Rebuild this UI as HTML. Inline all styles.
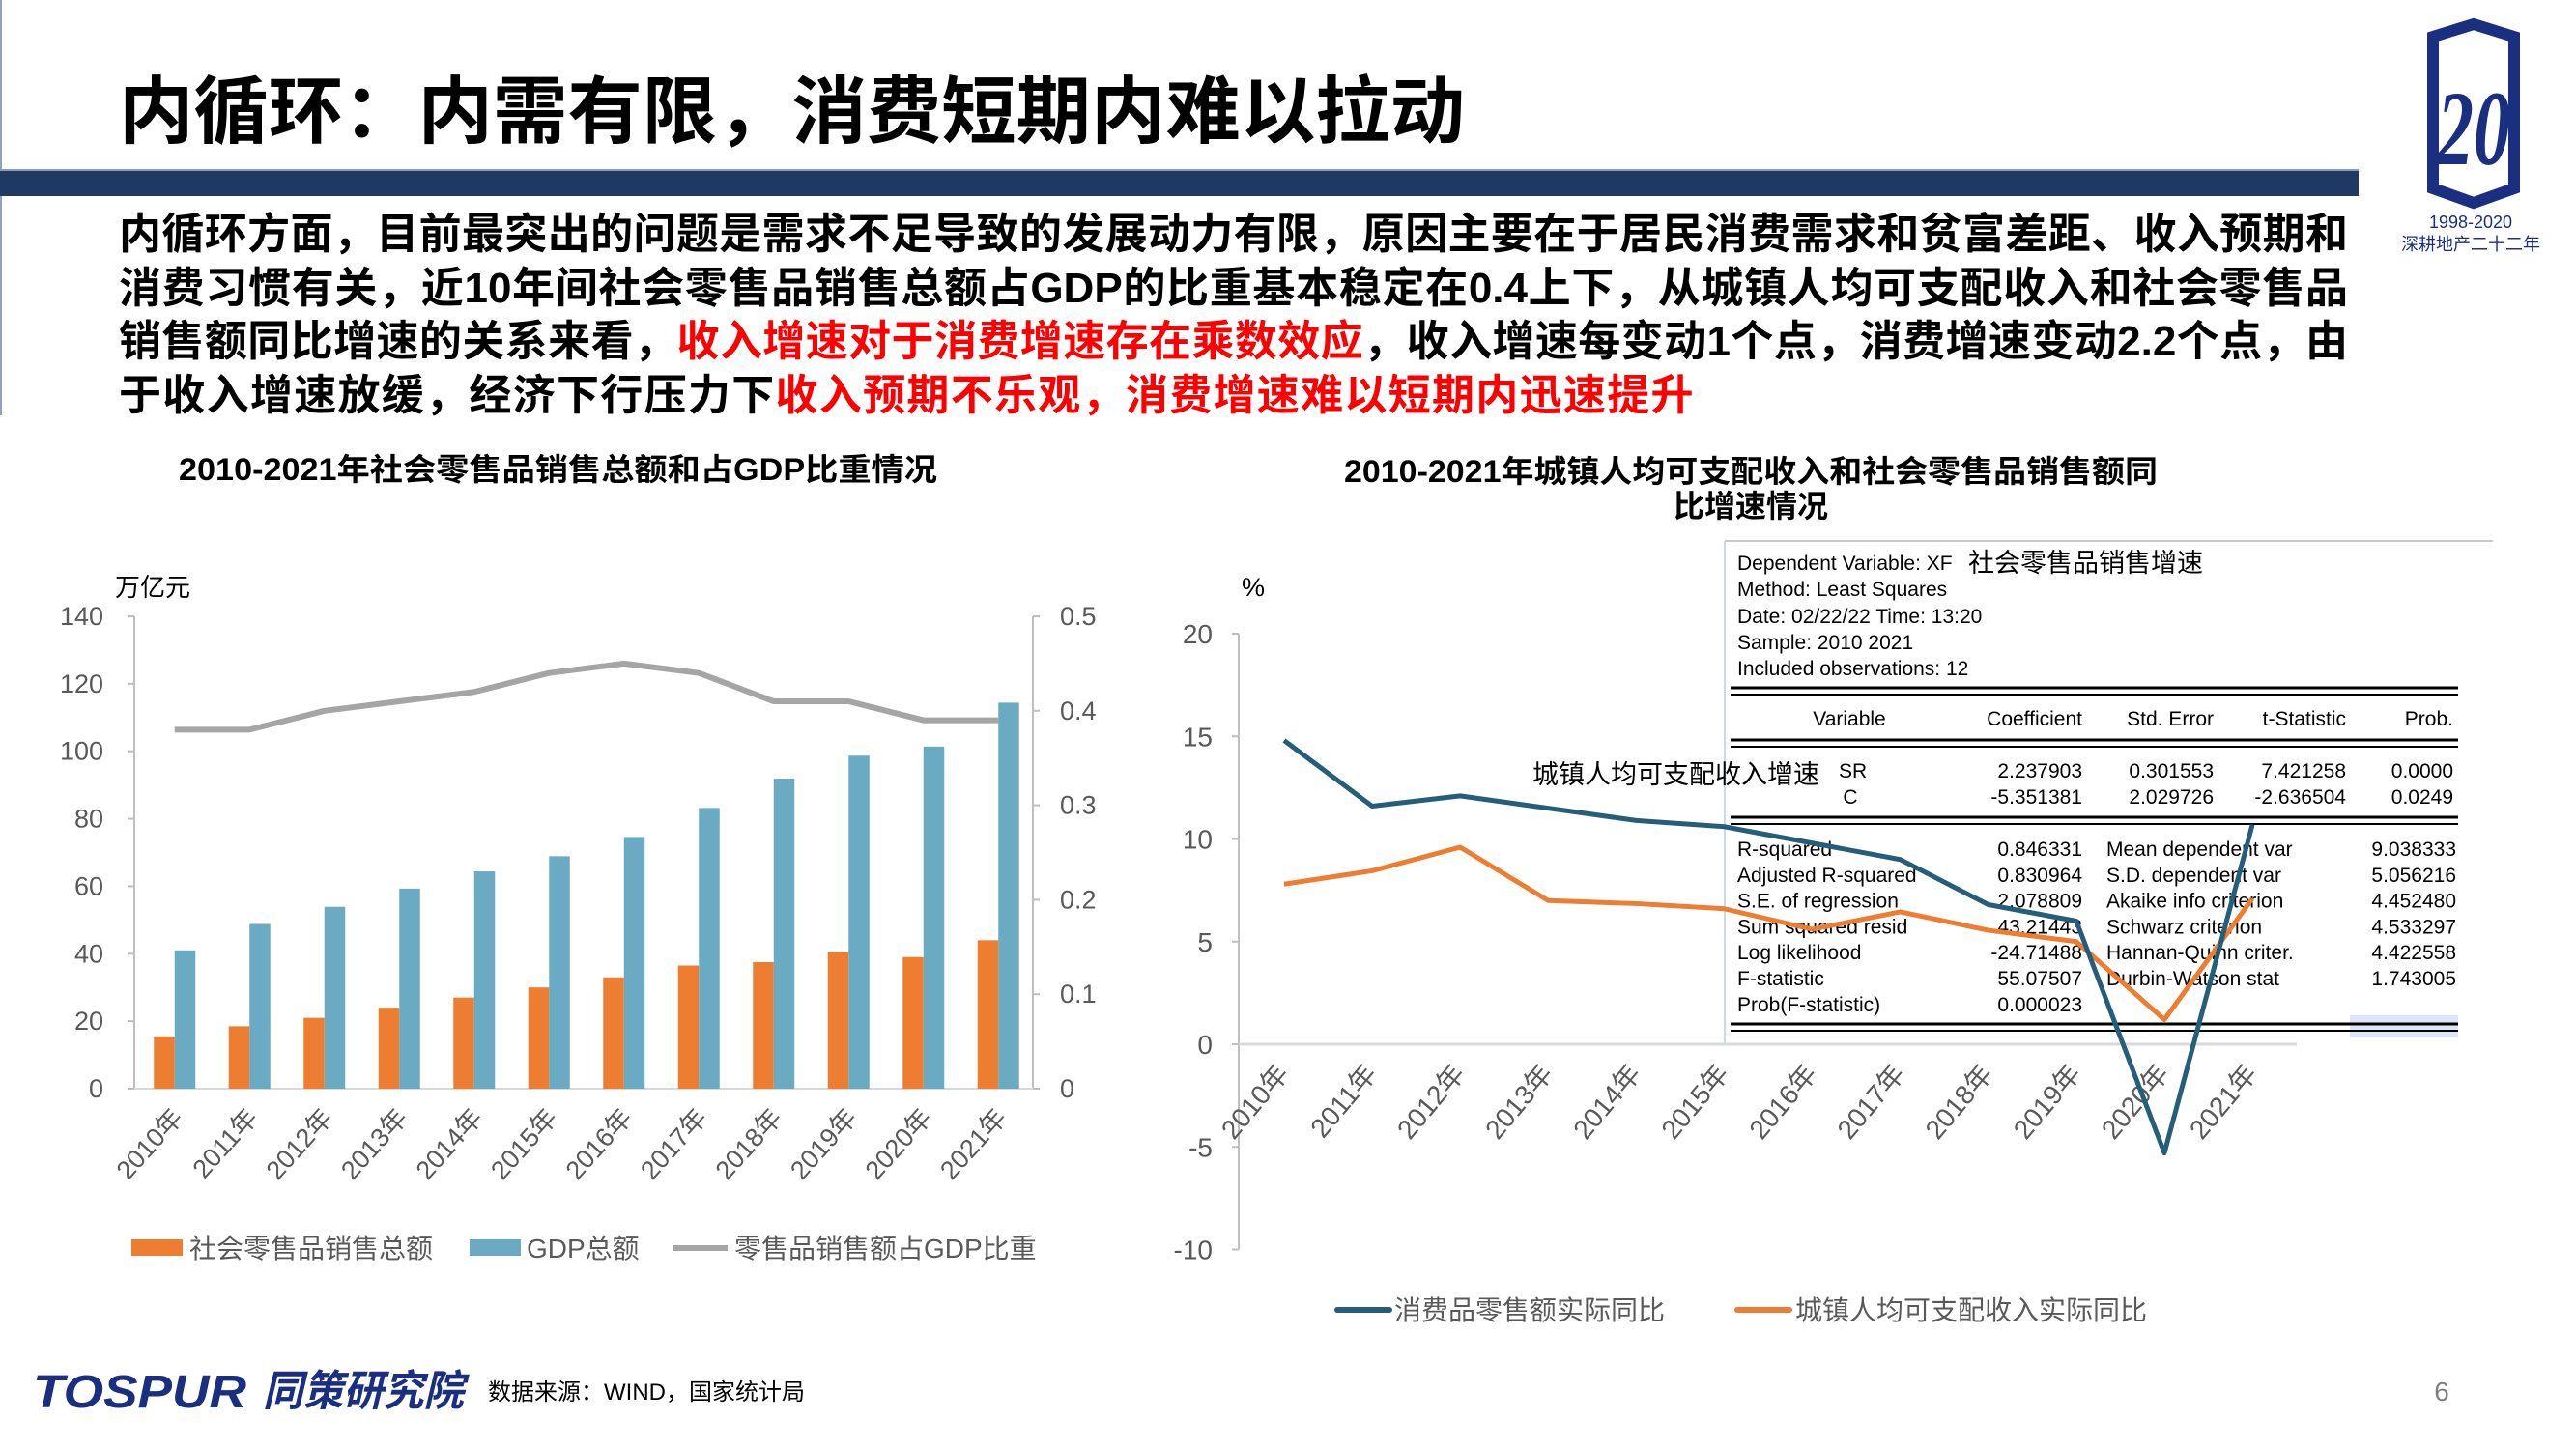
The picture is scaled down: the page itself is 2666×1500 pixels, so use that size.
<!DOCTYPE html>
<html><head><meta charset="utf-8">
<style>
html,body{margin:0;padding:0;background:#fff;}
body{width:2666px;height:1500px;position:relative;overflow:hidden;font-family:"Liberation Sans","Noto Sans CJK SC",sans-serif;}
.abs{position:absolute;}
.line{position:absolute;left:123px;width:2307px;font-size:44px;font-weight:bold;color:#000;white-space:nowrap;text-align:justify;text-align-last:justify;height:52px;line-height:52px;}
.red{color:#ff0000;}
</style></head>
<body>
<div class="abs" style="left:0;top:0;width:2px;height:430px;background:#8fa0c0;"></div>
<div class="abs" style="left:0;top:175px;width:2441px;height:26px;background:#203864;border-top:2px solid #8a9bbd;"></div>

<div>
<div class="line" style="top:217px;">内循环方面，目前最突出的问题是需求不足导致的发展动力有限，原因主要在于居民消费需求和贫富差距、收入预期和</div>
<div class="line" style="top:273px;">消费习惯有关，近10年间社会零售品销售总额占GDP的比重基本稳定在0.4上下，从城镇人均可支配收入和社会零售品</div>
<div class="line" style="top:328px;">销售额同比增速的关系来看，<span class="red">收入增速对于消费增速存在乘数效应</span>，收入增速每变动1个点，消费增速变动2.2个点，由</div>
<div class="line" style="top:384px;width:auto;text-align:left;text-align-last:left;letter-spacing:1.3px;">于收入增速放缓，经济下行压力下<span class="red">收入预期不乐观，消费增速难以短期内迅速提升</span></div>
</div>

<svg class="abs" style="left:0;top:0" width="2666" height="1500">
  <text x="123" y="142" font-size="76" font-weight="bold" fill="#000" textLength="1393" lengthAdjust="spacingAndGlyphs">内循环：内需有限，消费短期内难以拉动</text>
  <!-- logo -->
  <g>
    <polygon points="2518,38 2560,25 2602,38 2602,195 2560,210 2518,195" fill="#fff" stroke="#1b2f80" stroke-width="12"/>
    <text x="2560" y="170" font-size="110" font-style="italic" font-weight="bold" fill="#1b2f80" text-anchor="middle" font-family="Liberation Serif,serif" textLength="76" lengthAdjust="spacingAndGlyphs">20</text>
    <text x="2557" y="236" font-size="18" fill="#1b2f80" text-anchor="middle">1998-2020</text>
    <text x="2557" y="259" font-size="18" fill="#1b2f80" text-anchor="middle">深耕地产二十二年</text>
  </g>
  <text x="185" y="497" font-size="32" font-weight="bold" textLength="785" lengthAdjust="spacingAndGlyphs">2010-2021年社会零售品销售总额和占GDP比重情况</text>
  <text x="1391" y="499" font-size="32" font-weight="bold" textLength="842" lengthAdjust="spacingAndGlyphs">2010-2021年城镇人均可支配收入和社会零售品销售额同</text>
  <text x="1812" y="535" font-size="32" font-weight="bold" text-anchor="middle">比增速情况</text>

  <g id="leftChart"></g>
  <g id="table"></g>
  <g id="rightChart"></g>

  <!-- footer -->
  <text x="34" y="1457" font-size="48" font-weight="bold" font-style="italic" fill="#1b2f80" textLength="221" lengthAdjust="spacingAndGlyphs">TOSPUR</text>
  <text x="272" y="1455" font-size="44" font-weight="bold" font-style="italic" fill="#1b2f80" textLength="208" lengthAdjust="spacingAndGlyphs">同策研究院</text>
  <text x="505" y="1449" font-size="24" fill="#000">数据来源：WIND，国家统计局</text>
  <text x="2527" y="1450" font-size="28" fill="#808080" text-anchor="middle">6</text>
</svg>

<script>
const NS="http://www.w3.org/2000/svg";
function mk(parent,tag,attrs,text){const e=document.createElementNS(NS,tag);for(const k in attrs)e.setAttribute(k,attrs[k]);if(text!==undefined)e.textContent=text;parent.appendChild(e);return e;}

// ---- left chart data ----
const years=["2010年","2011年","2012年","2013年","2014年","2015年","2016年","2017年","2018年","2019年","2020年","2021年"];
const retailTotal=[15.5,18.5,21,24,27,30,33,36.5,37.5,40.5,39,44];
const gdpTotal=[41,48.8,53.9,59.3,64.4,68.9,74.6,83.2,91.9,98.7,101.4,114.4];
const retailRatio=[0.38,0.38,0.40,0.41,0.42,0.44,0.45,0.44,0.41,0.41,0.39,0.39];
const leftTicks=[0,20,40,60,80,100,120,140];
const rightTicks=[0,0.1,0.2,0.3,0.4,0.5];
// ---- right chart data ----
const retailGrowth=[14.8,11.6,12.1,11.5,10.9,10.6,9.8,9.0,6.8,6.0,-5.3,10.7];
const incomeGrowth=[7.8,8.45,9.6,7.0,6.85,6.6,5.6,6.45,5.55,5.0,1.2,7.1];
const pctTicks=[-10,-5,0,5,10,15,20];

// left chart
(function(){
  const g=document.getElementById('leftChart');
  const x0=139,x1=1069,yTop=638,yBot=1127;
  const yL=v=>yBot-(v/140)*(yBot-yTop);
  const yR=v=>yBot-(v/0.5)*(yBot-yTop);
  const step=(x1-x0)/years.length;
  const cx=i=>x0+step*(i+0.5);
  mk(g,'line',{x1:x0,y1:yTop,x2:x0,y2:yBot,stroke:'#bfbfbf','stroke-width':2});
  mk(g,'line',{x1:x1,y1:yTop,x2:x1,y2:yBot,stroke:'#bfbfbf','stroke-width':2});
  mk(g,'line',{x1:x0,y1:yBot,x2:x1,y2:yBot,stroke:'#d9d9d9','stroke-width':2});
  leftTicks.forEach(t=>{
    mk(g,'line',{x1:x0-7,y1:yL(t),x2:x0,y2:yL(t),stroke:'#bfbfbf','stroke-width':2});
    const e=mk(g,'text',{x:x0-32,y:yL(t)+9,'font-size':27,fill:'#595959','text-anchor':'end'},t);
    
    
  });
  rightTicks.forEach(t=>{
    mk(g,'line',{x1:x1,y1:yR(t),x2:x1+7,y2:yR(t),stroke:'#bfbfbf','stroke-width':2});
    const e=mk(g,'text',{x:x1+28,y:yR(t)+9,'font-size':27,fill:'#595959'},t);
    
    
  });
  const u=mk(g,'text',{x:119,y:617,'font-size':26,fill:'#000'},'万亿元');
  
  
  const bw=21.5;
  years.forEach((y,i)=>{
    const c=cx(i)+3;
    const b1=mk(g,'rect',{x:c-bw,y:yL(retailTotal[i]),width:bw,height:yBot-yL(retailTotal[i]),fill:'#ED7D31'});
    
    
    const b2=mk(g,'rect',{x:c,y:yL(gdpTotal[i]),width:bw,height:yBot-yL(gdpTotal[i]),fill:'#6AAAC2'});
    
    
    const lbl=mk(g,'text',{x:0,y:0,'font-size':27,fill:'#595959','text-anchor':'end',transform:`translate(${c+10},${1158}) rotate(-48)`},y);
    
    
  });
  const pts=retailRatio.map((v,i)=>`${cx(i)+3},${yR(v)}`).join(' ');
  const pl=mk(g,'polyline',{points:pts,fill:'none',stroke:'#A5A5A5','stroke-width':6,'stroke-linejoin':'round'});
  
  
  const lg=mk(g,'g',{});
  
  
  mk(lg,'rect',{x:136,y:1283,width:53,height:17,fill:'#ED7D31'});
  mk(lg,'text',{x:196,y:1302,'font-size':28,fill:'#595959'},'社会零售品销售总额');
  mk(lg,'rect',{x:486,y:1283,width:53,height:17,fill:'#6AAAC2'});
  mk(lg,'text',{x:545,y:1302,'font-size':28,fill:'#595959'},'GDP总额');
  mk(lg,'line',{x1:697,y1:1292,x2:753,y2:1292,stroke:'#A5A5A5','stroke-width':6});
  mk(lg,'text',{x:760,y:1302,'font-size':28,fill:'#595959'},'零售品销售额占GDP比重');
})();

// regression table
(function(){
  const g=document.getElementById('table');
  mk(g,'rect',{x:1785,y:560,width:790,height:520,fill:'#fff'});
  mk(g,'line',{x1:1785,y1:560,x2:2580,y2:560,stroke:'#c8c8c8','stroke-width':2});
  mk(g,'line',{x1:1785,y1:560,x2:1785,y2:1080,stroke:'#c9d8ea','stroke-width':2});
  mk(g,'rect',{x:2432,y:1051,width:112,height:22,fill:'#dce6f8'});
  [716,770,850,1064].forEach(y=>{
    mk(g,'line',{x1:1791,y1:y-4,x2:2544,y2:y-4,stroke:'#000','stroke-width':3});
    mk(g,'line',{x1:1791,y1:y+3,x2:2544,y2:y+3,stroke:'#000','stroke-width':2});
  });
  const fs=21;
  const head=[['Dependent Variable: XF',590],['Method: Least Squares',617],['Date: 02/22/22   Time: 13:20',645],['Sample: 2010 2021',672],['Included observations: 12',699]];
  head.forEach(([t,y])=>mk(g,'text',{x:1798,y:y,'font-size':fs,fill:'#000'},t));
  mk(g,'text',{x:2037,y:592,'font-size':27,fill:'#000'},'社会零售品销售增速');
  const hy=751;
  mk(g,'text',{x:1914,y:hy,'font-size':fs,'text-anchor':'middle'},'Variable');
  mk(g,'text',{x:2155,y:hy,'font-size':fs,'text-anchor':'end'},'Coefficient');
  mk(g,'text',{x:2291,y:hy,'font-size':fs,'text-anchor':'end'},'Std. Error');
  mk(g,'text',{x:2428,y:hy,'font-size':fs,'text-anchor':'end'},'t-Statistic');
  mk(g,'text',{x:2539,y:hy,'font-size':fs,'text-anchor':'end'},'Prob.');
  const rows=[['SR','2.237903','0.301553','7.421258','0.0000',805],['C','-5.351381','2.029726','-2.636504','0.0249',832]];
  rows.forEach(r=>{
    mk(g,'text',{x:r[0]==='SR'?1903:1915,y:r[5],'font-size':fs,'text-anchor':r[0]==='SR'?'start':'middle'},r[0]);
    mk(g,'text',{x:2155,y:r[5],'font-size':fs,'text-anchor':'end'},r[1]);
    mk(g,'text',{x:2291,y:r[5],'font-size':fs,'text-anchor':'end'},r[2]);
    mk(g,'text',{x:2428,y:r[5],'font-size':fs,'text-anchor':'end'},r[3]);
    mk(g,'text',{x:2539,y:r[5],'font-size':fs,'text-anchor':'end'},r[4]);
  });
  const stats=[['R-squared','0.846331','Mean dependent var','9.038333'],['Adjusted R-squared','0.830964','S.D. dependent var','5.056216'],['S.E. of regression','2.078809','Akaike info criterion','4.452480'],['Sum squared resid','43.21443','Schwarz criterion','4.533297'],['Log likelihood','-24.71488','Hannan-Quinn criter.','4.422558'],['F-statistic','55.07507','Durbin-Watson stat','1.743005'],['Prob(F-statistic)','0.000023','','']];
  stats.forEach((s,i)=>{
    const y=886+i*26.8;
    mk(g,'text',{x:1798,y:y,'font-size':fs},s[0]);
    mk(g,'text',{x:2155,y:y,'font-size':fs,'text-anchor':'end'},s[1]);
    mk(g,'text',{x:2180,y:y,'font-size':fs},s[2]);
    mk(g,'text',{x:2542,y:y,'font-size':fs,'text-anchor':'end'},s[3]);
  });
  const a=mk(g,'text',{x:1586,y:811,'font-size':27,fill:'#000'},'城镇人均可支配收入增速');
  
  
})();

// right chart
(function(){
  const g=document.getElementById('rightChart');
  const ax=1282,x0=1329,step=91.1;
  const yP=v=>1081-v*21.25;
  const cx=i=>x0+step*i;
  mk(g,'line',{x1:ax,y1:yP(20),x2:ax,y2:yP(-10),stroke:'#bfbfbf','stroke-width':2});
  mk(g,'line',{x1:ax,y1:yP(0),x2:2377,y2:yP(0),stroke:'#d9d9d9','stroke-width':3});
  pctTicks.forEach(t=>{
    mk(g,'line',{x1:ax-7,y1:yP(t),x2:ax,y2:yP(t),stroke:'#bfbfbf','stroke-width':2});
    const e=mk(g,'text',{x:ax-27,y:yP(t)+10,'font-size':28,fill:'#595959','text-anchor':'end'},t);
    
    
  });
  const u=mk(g,'text',{x:1285,y:617,'font-size':27,fill:'#000'},'%');
  
  
  years.forEach((y,i)=>{
    const l=mk(g,'text',{x:0,y:0,'font-size':28,fill:'#595959','text-anchor':'end',transform:`translate(${cx(i)+6},${1112}) rotate(-50)`},y);
    
    
  });
  const p2=mk(g,'polyline',{points:incomeGrowth.map((v,i)=>`${cx(i)},${yP(v)}`).join(' '),fill:'none',stroke:'#ED7D31','stroke-width':5,'stroke-linejoin':'round'});
  
  
  const p1=mk(g,'polyline',{points:retailGrowth.map((v,i)=>`${cx(i)},${yP(v)}`).join(' '),fill:'none',stroke:'#255E79','stroke-width':5,'stroke-linejoin':'round'});
  
  
  const lg=mk(g,'g',{});
  
  
  mk(lg,'line',{x1:1384,y1:1356,x2:1438,y2:1356,stroke:'#255E79','stroke-width':6,'stroke-linecap':'round'});
  mk(lg,'text',{x:1443,y:1366,'font-size':28,fill:'#595959'},'消费品零售额实际同比');
  mk(lg,'line',{x1:1798,y1:1356,x2:1852,y2:1356,stroke:'#ED7D31','stroke-width':6,'stroke-linecap':'round'});
  mk(lg,'text',{x:1858,y:1366,'font-size':28,fill:'#595959'},'城镇人均可支配收入实际同比');
})();
</script>
</body></html>
